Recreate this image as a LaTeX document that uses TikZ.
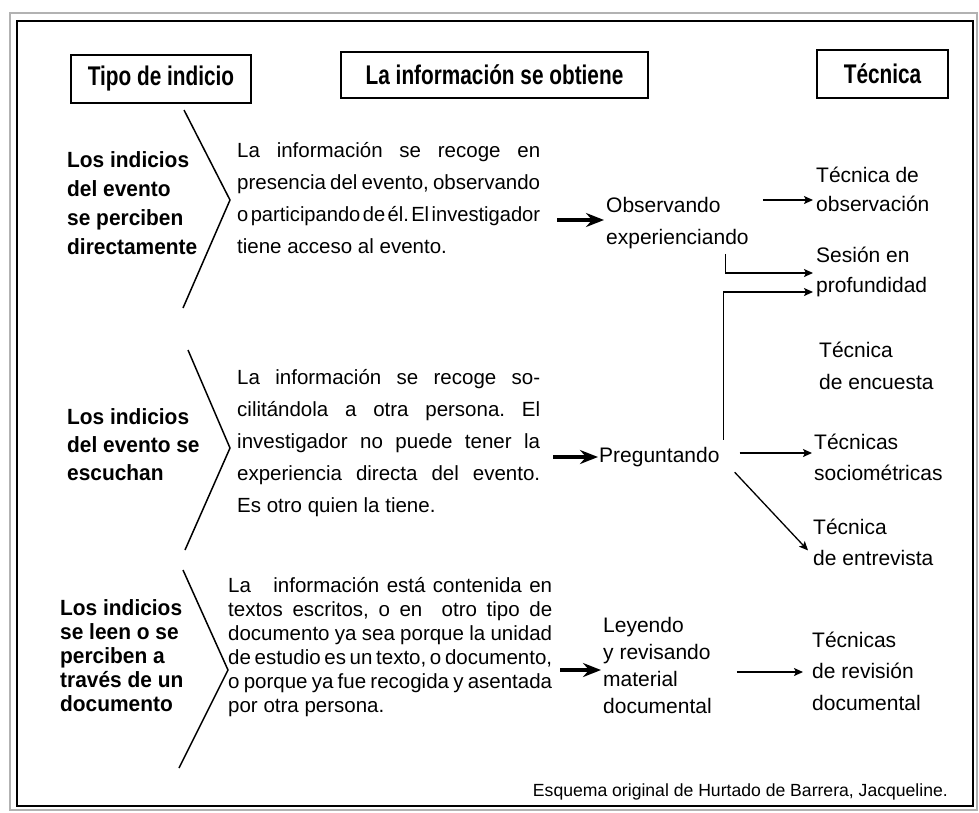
\documentclass[tikz,border=0pt]{standalone}
\usepackage{fontspec}
\usepackage{graphicx}
\setmainfont{Liberation Sans}
\newfontfamily\hdrfam[FakeStretch=0.77]{Liberation Sans}
\newfontfamily\lblfam[FakeStretch=0.95]{Liberation Sans}
\usetikzlibrary{arrows.meta}
\newlength\jw
\newlength\jnat
\newcommand\jline[2]{\begingroup\frenchspacing\spaceskip=0.12em plus 1fil\relax
  \xspaceskip=\spaceskip
  \setlength\jw{#1}\settowidth\jnat{#2}%
  \ifdim\jnat>\jw
    \pgfmathsetmacro\jr{\jw/\jnat}\scalebox{\jr}[1]{#2}%
  \else
    \makebox[\jw][s]{#2}%
  \fi\endgroup}
\begin{document}
\begin{tikzpicture}[x=1pt,y=-1pt,
  hdr/.style={draw, line width=1.8pt, inner sep=0pt, font=\hdrfam\bfseries\fontsize{27}{30}\selectfont},
  lbl/.style={anchor=north west, inner sep=0pt, align=left},
  txt/.style={anchor=north west, inner sep=0pt, align=left},
  chev/.style={line width=1.5pt},
  thk/.style={line width=3.3pt, -{Stealth[length=18pt,width=14pt,inset=6pt]}},
  tar/.style={line width=1.3pt, -{Stealth[length=9pt,width=8pt,inset=2pt]}}]
\useasboundingbox (0,0) rectangle (979,812);
\fill[white] (0,0) rectangle (979,812);
% frame
\draw[gray!60, line width=1.3pt] (10,13) rectangle (977,810);
\draw[black, line width=1.6pt] (17,21) rectangle (973,806);
% headers
\node[hdr, minimum width=180pt, minimum height=48pt] (h1) at (161,79) {Tipo de indicio};
\node[hdr, minimum width=307pt, minimum height=46pt] (h2) at (494.5,75) {La información se obtiene};
\node[hdr, minimum width=131pt, minimum height=48pt] (h3) at (882.5,74) {Técnica};
% left labels
\node[lbl, font=\lblfam\bfseries\fontsize{22}{29}\selectfont] (l1) at (67,147)
  {\strut Los indicios\\\strut del evento\\\strut se perciben\\\strut directamente};
\node[lbl, font=\lblfam\bfseries\fontsize{22}{28}\selectfont] (l2) at (67,404.7)
  {\strut Los indicios\\\strut del evento se\\\strut escuchan};
\node[lbl, font=\lblfam\bfseries\fontsize{22}{24}\selectfont] (l3) at (60,598.5)
  {\strut Los indicios\\\strut se leen o se\\\strut perciben a\\\strut través de un\\\strut documento};
% chevrons
\draw[chev] (184,110) -- (230,200) -- (183,308);
\draw[chev] (188,350) -- (230,448) -- (185,550);
\draw[chev] (183,570) -- (228,670) -- (179,768);
% paragraphs
\node[txt, font=\fontsize{20.5}{32}\selectfont] (p1) at (237,134.4)
  {\strut\jline{303pt}{La información se recoge en}\\
   \strut\jline{303pt}{presencia del evento, observando}\\
   \strut\jline{303pt}{o participando de él. El investigador}\\
   \strut tiene acceso al evento.};
\node[txt, font=\fontsize{20.5}{32}\selectfont] (p2) at (237,361.4)
  {\strut\jline{303pt}{La información se recoge so-}\\
   \strut\jline{303pt}{cilitándola a otra persona. El}\\
   \strut\jline{303pt}{investigador no puede tener la}\\
   \strut\jline{303pt}{experiencia directa del evento.}\\
   \strut Es otro quien la tiene.};
\node[txt, font=\fontsize{20.5}{24}\selectfont] (p3) at (228,575)
  {\strut\jline{324pt}{La\ \ \ información está contenida en}\\
   \strut\jline{324pt}{textos escritos, o en\ \ otro tipo de}\\
   \strut\jline{324pt}{documento ya sea porque la unidad}\\
   \strut\jline{324pt}{de estudio es un texto, o documento,}\\
   \strut\jline{324pt}{o porque ya fue recogida y asentada}\\
   \strut por otra persona.};
% methods
\node[txt, font=\fontsize{21}{32}\selectfont] (obs) at (606,189.5)
  {\strut Observando\\\strut experienciando};
\node[txt, font=\fontsize{21}{32}\selectfont] (preg) at (599,439.5)
  {\strut Preguntando};
\node[txt, font=\fontsize{21}{27}\selectfont] (ley) at (603,613)
  {\strut Leyendo\\\strut y revisando\\\strut material\\\strut documental};
% techniques
\node[txt, font=\fontsize{21}{29}\selectfont] (obsT) at (816,161.6)
  {\strut Técnica de\\\strut observación};
\node[txt, font=\fontsize{21}{30}\selectfont] (ses) at (816,240.9)
  {\strut Sesión en\\\strut profundidad};
\node[txt, font=\fontsize{21}{32}\selectfont] (enc) at (819,334.5)
  {\strut Técnica\\\strut de encuesta};
\node[txt, font=\fontsize{21}{31}\selectfont] (soc) at (814,427.2)
  {\strut Técnicas\\\strut sociométricas};
\node[txt, font=\fontsize{21}{31}\selectfont] (ent) at (813,512.2)
  {\strut Técnica\\\strut de entrevista};
\node[txt, font=\fontsize{21}{31.5}\selectfont] (rev) at (812,624.9)
  {\strut Técnicas\\\strut de revisión\\\strut documental};
% footer
\node[anchor=east, inner sep=0pt, font=\fontsize{17.6}{20}\selectfont] (ft) at (948,792)
  {Esquema original de Hurtado de Barrera, Jacqueline.};
% thick arrows
\draw[thk, shorten <=17pt, shorten >=2pt] (p1.east |- 0,220) -- (obs.west |- 0,220);
\draw[thk, shorten <=13pt, shorten >=1pt] (p2.east |- 0,457) -- (preg.west |- 0,457);
\draw[thk, shorten <=8pt, shorten >=2pt] (p3.east |- 0,670) -- (ley.west |- 0,670);
% thin arrows
\draw[tar, shorten <=14pt, shorten >=3pt] (obs.east |- 0,200) -- (obsT.west |- 0,200);
\draw[tar, shorten >=3pt] ([xshift=48pt]obs.south) |- (ses.west |- 0,273);
\draw[tar, shorten >=3pt] ([xshift=64pt]preg.north) |- (ses.west |- 0,292);
\draw[tar, shorten <=20pt, shorten >=2pt] (preg.east |- 0,453) -- (soc.west |- 0,453);
\draw[tar] ([shift={(15pt,-16.5pt)}]preg.east) -- ([shift={(-5pt,-7pt)}]ent.west);
\draw[tar, shorten <=25pt, shorten >=9pt] (ley.east |- 0,672) -- (rev.west |- 0,672);
\end{tikzpicture}
\end{document}
